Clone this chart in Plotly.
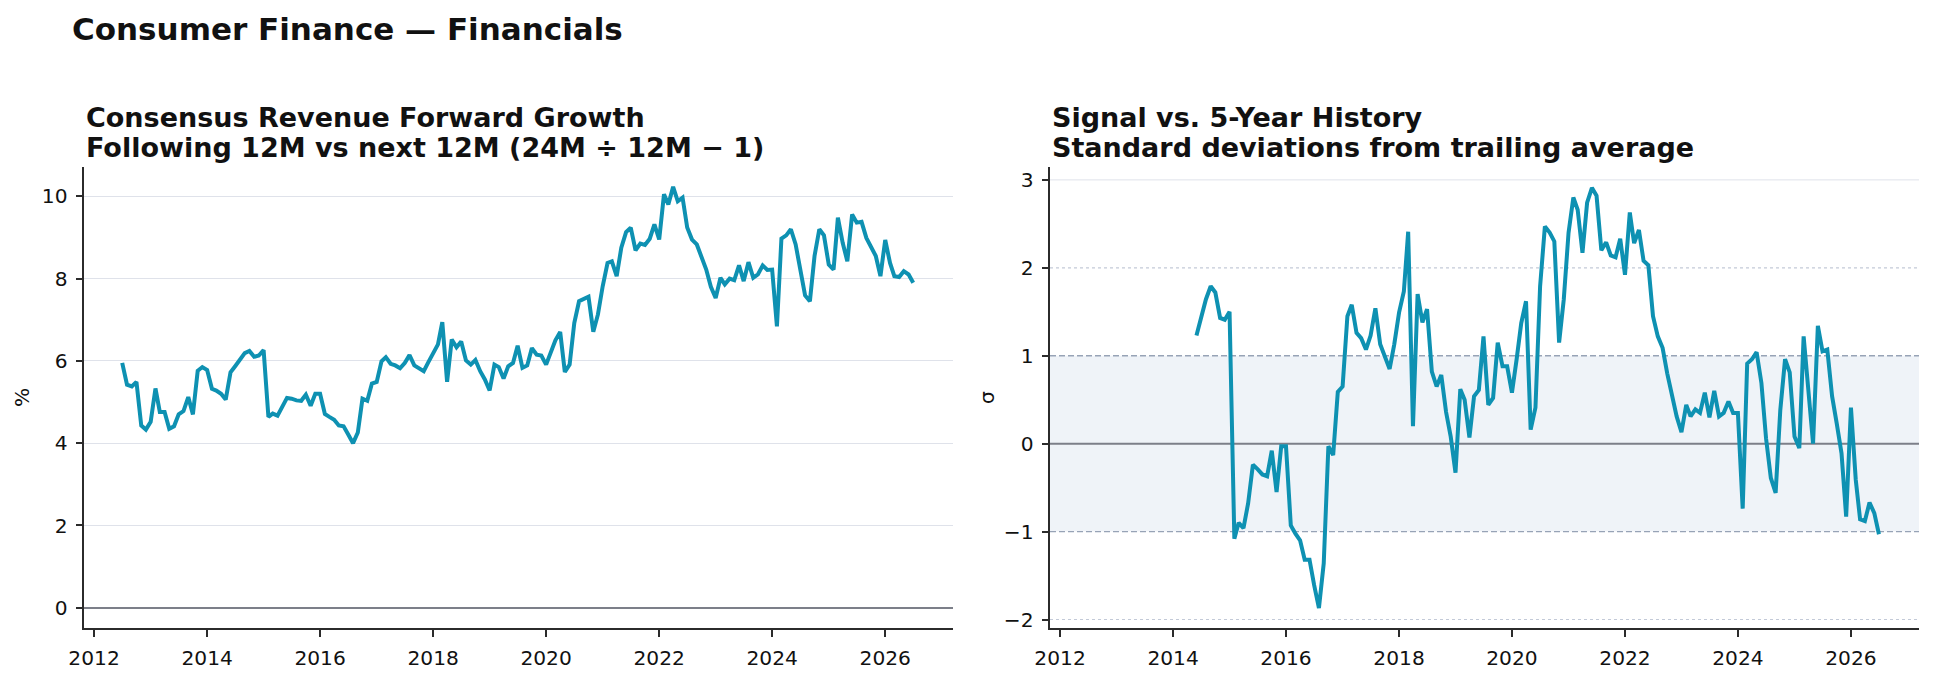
import pandas as pd
import plotly.graph_objects as go

# ---------------- data ----------------
growth_start = "2012-07-01"
growth_pct = [
    5.95, 5.42, 5.38, 5.49, 4.43, 4.33, 4.52, 5.33, 4.76, 4.76, 4.35, 4.41,
    4.70, 4.78, 5.12, 4.70, 5.76, 5.85, 5.78, 5.32, 5.28, 5.20, 5.06, 5.72,
    5.87, 6.03, 6.19, 6.24, 6.10, 6.13, 6.26, 4.64, 4.72, 4.67, 4.86, 5.10,
    5.08, 5.04, 5.03, 5.18, 4.91, 5.20, 5.20, 4.71, 4.64, 4.57, 4.43, 4.41,
    4.21, 4.00, 4.26, 5.08, 5.03, 5.45, 5.49, 5.99, 6.09, 5.93, 5.89, 5.82,
    5.95, 6.14, 5.89, 5.82, 5.75, 5.97, 6.21, 6.40, 6.94, 5.49, 6.52, 6.33,
    6.47, 6.01, 5.91, 6.02, 5.75, 5.55, 5.28, 5.91, 5.85, 5.57, 5.87, 5.95,
    6.37, 5.83, 5.89, 6.31, 6.15, 6.13, 5.91, 6.19, 6.50, 6.70, 5.73, 5.91,
    6.92, 7.45, 7.52, 7.56, 6.71, 7.13, 7.82, 8.38, 8.42, 8.06, 8.75, 9.13,
    9.24, 8.69, 8.85, 8.82, 8.97, 9.32, 8.95, 10.05, 9.80, 10.23, 9.88, 9.97,
    9.24, 8.95, 8.83, 8.55, 8.22, 7.80, 7.53, 8.02, 7.86, 8.00, 7.96, 8.32,
    7.94, 8.40, 8.02, 8.10, 8.32, 8.21, 8.22, 6.84, 8.97, 9.05, 9.20, 8.83,
    8.22, 7.59, 7.45, 8.55, 9.20, 9.05, 8.34, 8.22, 9.48, 8.87, 8.42, 9.56,
    9.36, 9.38, 8.99, 8.75, 8.55, 8.06, 8.94, 8.38, 8.06, 8.04, 8.18, 8.10,
    7.90,
]

zscore_start = "2014-06-01"
zscore_sigma = [
    1.23, 1.42, 1.64, 1.79, 1.72, 1.43, 1.41, 1.50, -1.08, -0.90, -0.96, -0.68,
    -0.24, -0.29, -0.35, -0.37, -0.08, -0.55, -0.03, -0.03, -0.93, -1.02, -1.10, -1.32,
    -1.32, -1.61, -1.87, -1.36, -0.03, -0.13, 0.59, 0.65, 1.45, 1.58, 1.26, 1.20,
    1.07, 1.23, 1.54, 1.13, 0.99, 0.85, 1.13, 1.49, 1.73, 2.41, 0.20, 1.70,
    1.38, 1.53, 0.82, 0.65, 0.78, 0.36, 0.08, -0.33, 0.62, 0.50, 0.07, 0.54,
    0.61, 1.22, 0.44, 0.52, 1.15, 0.88, 0.88, 0.58, 0.97, 1.37, 1.62, 0.16,
    0.41, 1.79, 2.47, 2.40, 2.30, 1.15, 1.64, 2.40, 2.80, 2.66, 2.17, 2.74,
    2.91, 2.82, 2.20, 2.29, 2.14, 2.12, 2.33, 1.92, 2.63, 2.28, 2.43, 2.08,
    2.03, 1.45, 1.22, 1.09, 0.80, 0.54, 0.31, 0.13, 0.44, 0.31, 0.39, 0.35,
    0.58, 0.30, 0.60, 0.31, 0.35, 0.48, 0.35, 0.35, -0.74, 0.91, 0.96, 1.04,
    0.69, 0.06, -0.39, -0.56, 0.38, 0.96, 0.81, 0.08, -0.05, 1.22, 0.61, 0.00,
    1.34, 1.05, 1.07, 0.54, 0.23, -0.11, -0.83, 0.41, -0.41, -0.86, -0.88, -0.67,
    -0.79, -1.03,
]

growth_dates = pd.date_range(growth_start, periods=len(growth_pct), freq="MS")
zscore_dates = pd.date_range(zscore_start, periods=len(zscore_sigma), freq="MS")

main_title = "Consumer Finance \u2014 Financials"
left_title = ["Consensus Revenue Forward Growth",
              "Following 12M vs next 12M (24M \u00f7 12M \u2212 1)"]
right_title = ["Signal vs. 5-Year History",
               "Standard deviations from trailing average"]
left_ylabel = "%"
right_ylabel = "\u03c3"
year_ticks = ["2012-01-01", "2014-01-01", "2016-01-01", "2018-01-01",
              "2020-01-01", "2022-01-01", "2024-01-01", "2026-01-01"]
year_labels = ["2012", "2014", "2016", "2018", "2020", "2022", "2024", "2026"]

# ---------------- styling ----------------
W, H = 1934, 679
FONT = "DejaVu Sans"
LINE_COLOR = "#0e91b2"
AXIS_COLOR = "#2b2b2b"
GRID_COLOR = "#dfe2ea"
ZERO_COLOR = "#7c7f89"
BAND_COLOR = "#eff3f8"
DASH_COLOR = "#97a3b6"
DOT_COLOR = "#c3cad8"
TICK_SIZE = 20.2


def px_x(p):
    return p / W


def px_y(p):
    return 1 - p / H


L_X0, L_X1 = 84, 953.3
R_X0, R_X1 = 1050, 1919
Y_TOP, Y_BOT = 166.7, 628.3
X_RANGE = ["2011-10-28", "2027-03-17"]

fig = go.Figure()
fig.add_trace(go.Scatter(x=growth_dates, y=growth_pct, mode="lines",
                         line=dict(color=LINE_COLOR, width=4.0),
                         xaxis="x", yaxis="y", showlegend=False))
fig.add_trace(go.Scatter(x=zscore_dates, y=zscore_sigma, mode="lines",
                         line=dict(color=LINE_COLOR, width=4.0),
                         xaxis="x2", yaxis="y2", showlegend=False))

xcommon = dict(type="date", range=X_RANGE, tickmode="array",
               tickvals=year_ticks, ticktext=year_labels,
               showgrid=False, zeroline=False, showline=True,
               linecolor=AXIS_COLOR, linewidth=1.8, ticks="outside",
               ticklen=6.5, tickwidth=1.6, tickcolor=AXIS_COLOR,
               tickfont=dict(family=FONT, size=TICK_SIZE, color="#111"),
               ticklabelstandoff=4, automargin=False)
ycommon = dict(showline=True, linecolor=AXIS_COLOR, linewidth=1.8,
               ticks="outside", ticklen=6.5, tickwidth=1.6,
               tickcolor=AXIS_COLOR,
               tickfont=dict(family=FONT, size=TICK_SIZE, color="#111"),
               ticklabelstandoff=4, automargin=False)

fig.update_layout(
    width=W, height=H,
    margin=dict(l=0, r=0, t=0, b=0, autoexpand=False),
    paper_bgcolor="white", plot_bgcolor="white",
    xaxis=dict(domain=[px_x(L_X0), px_x(L_X1)], anchor="y", **xcommon),
    yaxis=dict(domain=[px_y(Y_BOT), px_y(Y_TOP)], anchor="x",
               range=[-0.5, 10.72], tickvals=[0, 2, 4, 6, 8, 10],
               showgrid=True, gridcolor=GRID_COLOR, gridwidth=1,
               zeroline=True, zerolinecolor=ZERO_COLOR, zerolinewidth=2,
               **ycommon),
    xaxis2=dict(domain=[px_x(R_X0), px_x(R_X1)], anchor="y2", **xcommon),
    yaxis2=dict(domain=[px_y(Y_BOT), px_y(Y_TOP)], anchor="x2",
                range=[-2.1, 3.15], tickvals=[-2, -1, 0, 1, 2, 3],
                ticktext=["\u22122", "\u22121", "0", "1", "2", "3"],
                showgrid=False, zeroline=False, **ycommon),
)

# reference band and lines on the sigma panel
shapes = [
    dict(type="rect", xref="x2 domain", yref="y2", x0=0, x1=1, y0=-1, y1=1,
         fillcolor=BAND_COLOR, line=dict(width=0), layer="below"),
    dict(type="line", xref="x2 domain", yref="y2", x0=0, x1=1, y0=3, y1=3,
         line=dict(color=GRID_COLOR, width=1), layer="below"),
    dict(type="line", xref="x2 domain", yref="y2", x0=0, x1=1, y0=2, y1=2,
         line=dict(color=DOT_COLOR, width=1.2, dash="dot"), layer="below"),
    dict(type="line", xref="x2 domain", yref="y2", x0=0, x1=1, y0=-2, y1=-2,
         line=dict(color=DOT_COLOR, width=1.2, dash="dot"), layer="below"),
    dict(type="line", xref="x2 domain", yref="y2", x0=0, x1=1, y0=1, y1=1,
         line=dict(color=DASH_COLOR, width=1.4, dash="6px,3px"), layer="below"),
    dict(type="line", xref="x2 domain", yref="y2", x0=0, x1=1, y0=-1, y1=-1,
         line=dict(color=DASH_COLOR, width=1.4, dash="6px,3px"), layer="below"),
    dict(type="line", xref="x2 domain", yref="y2", x0=0, x1=1, y0=0, y1=0,
         line=dict(color=ZERO_COLOR, width=2), layer="below"),
]
fig.update_layout(shapes=shapes)

ann = []
ann.append(dict(text="<b>%s</b>" % main_title, x=px_x(70), y=px_y(29),
                xref="paper", yref="paper", xanchor="left", yanchor="middle",
                showarrow=False, font=dict(family=FONT, size=31, color="#111")))
for x0, lines in ((L_X0, left_title), (R_X0, right_title)):
    for yy, t in zip((117, 147), lines):
        ann.append(dict(text="<b>%s</b>" % t, x=px_x(x0), y=px_y(yy),
                        xref="paper", yref="paper", xanchor="left",
                        yanchor="middle", showarrow=False,
                        font=dict(family=FONT, size=27, color="#111")))
ann.append(dict(text=left_ylabel, x=px_x(22), y=px_y(398), xref="paper",
                yref="paper", textangle=-90, showarrow=False,
                xanchor="center", yanchor="middle",
                font=dict(family=FONT, size=TICK_SIZE, color="#111")))
ann.append(dict(text=right_ylabel, x=px_x(987), y=px_y(398), xref="paper",
                yref="paper", textangle=-90, showarrow=False,
                xanchor="center", yanchor="middle",
                font=dict(family=FONT, size=TICK_SIZE, color="#111")))
fig.update_layout(annotations=ann)

fig.write_html("out.html")
